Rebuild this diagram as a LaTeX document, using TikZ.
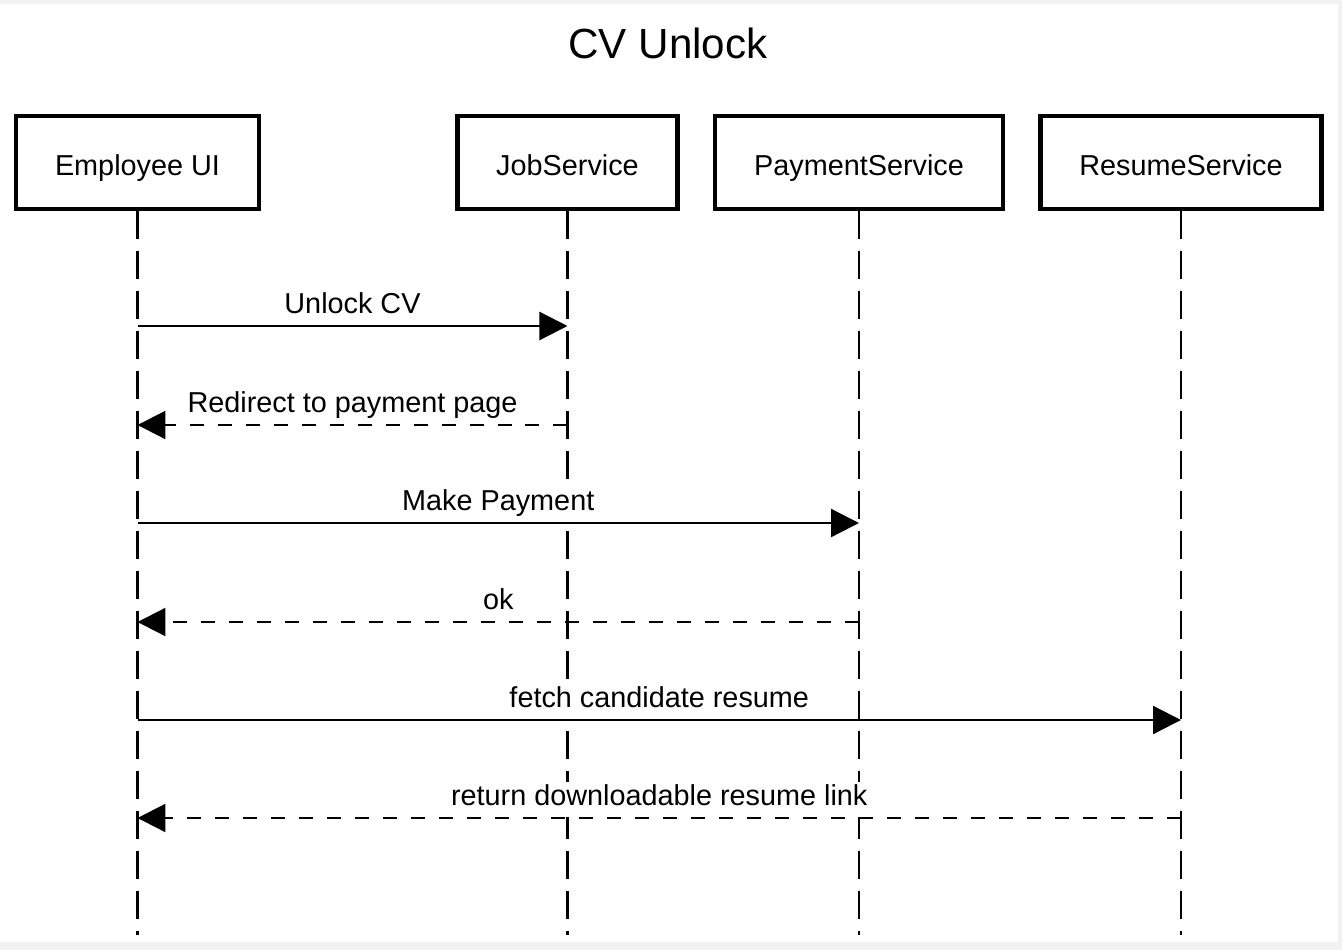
\documentclass[tikz,border=0pt]{standalone}
\usepackage{fontspec}
\setmainfont{Liberation Sans}
\usetikzlibrary{arrows.meta,positioning}

\tikzset{
  actor/.style = {draw, line width=2.6pt, minimum height=1.86cm,
                  text height=14.5pt, text depth=0pt,
                  font=\fontsize{16.4}{20}\selectfont},
  lifeline/.style = {line width=1.3pt, dash pattern=on 0.56cm off 0.24cm},
  call/.style = {line width=1.3pt, -{Triangle[length=0.56cm, width=0.56cm]}},
  reply/.style = {call, dash pattern=on 0.28cm off 0.28cm},
  msg/.style = {anchor=south, yshift=0.025cm, fill=white,
                inner xsep=2pt, inner ysep=0pt, outer sep=0pt,
                text height=13pt, text depth=0.235cm,
                font=\fontsize{16.4}{20}\selectfont},
}

\begin{document}
\begin{tikzpicture}[x=0.02cm, y=-0.02cm]
  % page
  \fill[black!5] (0,0) rectangle (1342,950);
  \fill[white] (0,4) rectangle (1338,942);
  \useasboundingbox (0,0) rectangle (1342,950);

  \node[font=\fontsize{24}{28}\selectfont] (title) at (668,43) {CV Unlock};

  % participants
  \node[actor, minimum width=4.86cm] (ui) at (137.5,162.5) {Employee UI};
  \node[actor, minimum width=4.40cm, right=3.88cm of ui] (job) {JobService};
  \node[actor, minimum width=5.76cm, right=0.66cm of job] (pay) {PaymentService};
  \node[actor, minimum width=5.62cm, right=0.66cm of pay] (res) {ResumeService};

  \coordinate (bottom) at (0,935);
  \foreach \p in {ui,job,pay,res} {
    \coordinate (\p end) at (\p.south |- bottom);
    \draw[lifeline] (\p) -- (\p end);
  }

  % messages
  \coordinate (m1) at (0,326);
  \coordinate (m2) at (0,425);
  \coordinate (m3) at (0,523);
  \coordinate (m4) at (0,622);
  \coordinate (m5) at (0,720);
  \coordinate (m6) at (0,818);

  \draw[call]  (ui |- m1) -- node[msg] {Unlock CV} (job |- m1);
  \draw[reply] (job |- m2) -- node[msg] {Redirect to payment page} (ui |- m2);
  \draw[call]  (ui |- m3) -- node[msg] {Make Payment} (pay |- m3);
  \draw[reply] (pay |- m4) -- node[msg] {ok} (ui |- m4);
  \draw[call]  (ui |- m5) -- node[msg] {fetch candidate resume} (res |- m5);
  \draw[reply] (res |- m6) -- node[msg] {return downloadable resume link} (ui |- m6);
\end{tikzpicture}
\end{document}
